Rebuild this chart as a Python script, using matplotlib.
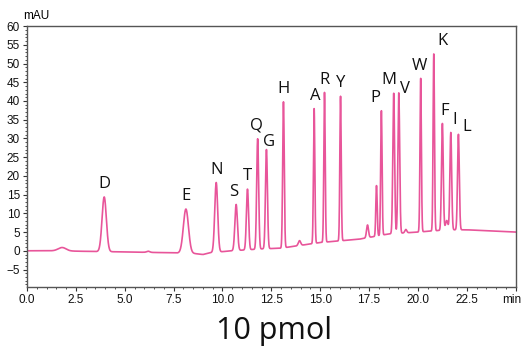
import numpy as np
import matplotlib
matplotlib.use("Agg")
import matplotlib.pyplot as plt
from matplotlib.ticker import MultipleLocator, FixedLocator

# Peak table
peak_labels = ["D", "E", "N", "S", "T", "Q", "G", "H", "A", "R", "Y",
               "P", "M", "V", "W", "K", "F", "I", "L"]
peak_times = [3.95, 8.13, 9.68, 10.70, 11.28, 11.80, 12.25, 13.12, 14.69, 15.22, 16.04,
              18.13, 18.76, 19.02, 20.14, 20.81, 21.25, 21.68, 22.07]
peak_heights = [14.6, 11.8, 18.6, 12.3, 16.2, 29.5, 26.5, 39.0, 36.0, 40.0, 38.6,
                33.3, 37.5, 37.5, 41.0, 47.3, 28.5, 26.0, 25.5]
peak_widths = [0.11, 0.13, 0.075, 0.065, 0.055, 0.05, 0.05, 0.04, 0.035, 0.035, 0.035,
               0.035, 0.045, 0.045, 0.035, 0.035, 0.045, 0.045, 0.045]

# Minor unlabeled peaks
minor_times = [1.8, 6.2, 13.94, 17.42, 17.88, 19.38, 21.47]
minor_heights = [0.9, 0.3, 1.3, 3.4, 13.5, 0.9, 2.5]
minor_widths = [0.2, 0.08, 0.06, 0.05, 0.035, 0.05, 0.06]

# Baseline drift points (time, mAU)
base_t = [0.0, 1.5, 3.5, 5.0, 7.0, 8.5, 9.0, 9.4, 10.5, 12.0, 13.0, 15.0, 17.0, 18.5, 20.0, 21.5, 22.5, 25.0]
base_y = [0.0, 0.0, -0.2, -0.3, -0.5, -0.7, -1.0, -0.5, 0.0, 0.5, 0.7, 2.2, 3.1, 4.5, 5.0, 5.6, 5.6, 5.0]

label_offsets = {"Q": (-0.05, 0), "G": (0.15, -1.5), "M": (-0.25, 0), "V": (0.3, -2.5),
                 "K": (0.45, 0), "F": (0.1, 0), "I": (0.2, 0), "L": (0.45, -1.5),
                 "A": (0.05, 0), "P": (-0.3, 0), "S": (-0.12, 0), "W": (-0.05, 0)}

t = np.linspace(0, 25, 6000)
y = np.interp(t, base_t, base_y)
for c, h, w in zip(peak_times + minor_times, peak_heights + minor_heights, peak_widths + minor_widths):
    y = y + h * np.exp(-0.5 * ((t - c) / w) ** 2)

fig = plt.figure(figsize=(5.21, 3.48), dpi=100)
ax = fig.add_axes([0.0518, 0.175, 0.938, 0.750])
ax.plot(t, y, color="#e8559a", lw=1.2)
ax.set_xlim(0, 25)
ax.set_ylim(-9.7, 60)

ax.xaxis.set_major_locator(FixedLocator(np.arange(0, 25.1, 2.5)))
ax.xaxis.set_minor_locator(MultipleLocator(0.5))
ax.yaxis.set_major_locator(FixedLocator(np.arange(-5, 61, 5)))
ax.yaxis.set_minor_locator(MultipleLocator(1))
xt = [f"{v:.1f}" for v in np.arange(0, 25.1, 2.5)]
xt[-1] = "min"
ax.set_xticklabels(xt)
for s in ax.spines.values():
    s.set_color("#555555")
    s.set_linewidth(1.0)
ax.tick_params(axis="both", which="major", length=3, width=0.8, color="#333333",
               labelsize=8.5, pad=2, labelcolor="#111111")
ax.tick_params(axis="both", which="minor", length=1.5, width=0.6, color="#333333")
for lab in ax.get_xticklabels() + ax.get_yticklabels():
    lab.set_fontfamily("Liberation Sans")
last = ax.get_xticklabels()[-1]
last.set_horizontalalignment("right")
last.set_x(25.0)
import matplotlib.transforms as mtransforms
last.set_transform(last.get_transform() + mtransforms.ScaledTranslation(6 / 100, 0, fig.dpi_scale_trans))

fig.text(0.045, 0.955, "mAU", fontsize=8.5, family="Liberation Sans", va="center", ha="left")

for lab, c, h, w in zip(peak_labels, peak_times, peak_heights, peak_widths):
    top = np.interp(c, t, y)
    dx, dy = label_offsets.get(lab, (0, 0))
    ax.text(c + dx, top + 1.3 + dy, lab, ha="center", va="bottom", fontsize=12,
            family="Open Sans", color="#111111")

fig.text(0.525, 0.048, "10 pmol", ha="center", va="center", fontsize=22, family="Open Sans",
         color="#111111")

fig.savefig("out.png", dpi=100)
